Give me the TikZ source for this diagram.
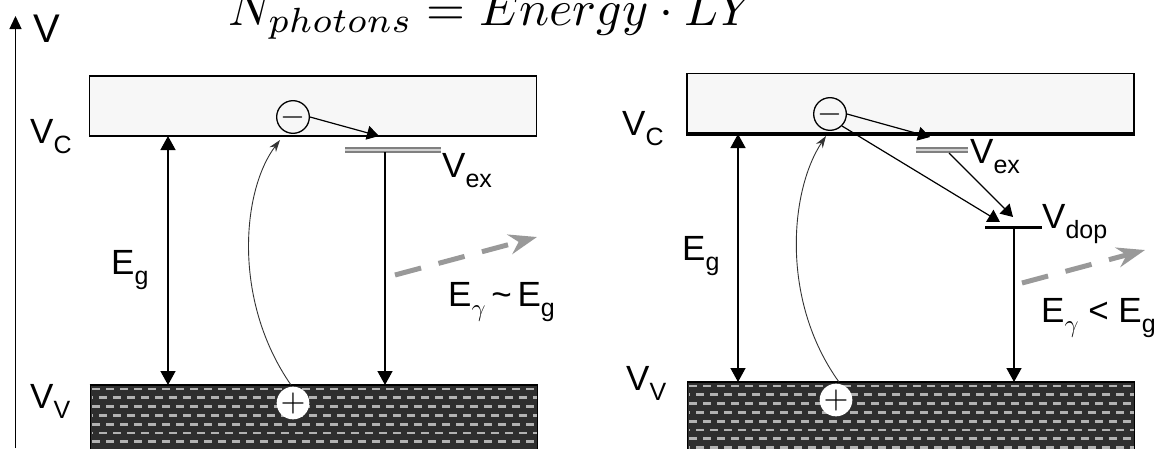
\documentclass[tikz,border=0pt]{standalone}
\usepackage{graphicx}
\usepackage{fontspec}
\newfontfamily\lsans{Liberation Sans}
\usetikzlibrary{arrows.meta,positioning,calc}

\newcommand\lsub[1]{\raisebox{-10pt}{\fontsize{25}{25}\selectfont #1}}

\tikzset{
  lab/.style={font=\lsans\fontsize{35}{35}\selectfont, inner sep=0pt, anchor=base west},
  cband/.style={draw, line width=1.3pt, fill=black!3, minimum width=447pt, minimum height=60pt, inner sep=0pt},
  vband/.style={draw, line width=1.3pt, fill=black!82, minimum width=447pt, minimum height=75pt, inner sep=0pt, anchor=north west},
  holes/.style={gray!60, line width=2.8pt, dash pattern=on 8pt off 6pt},
  gap/.style={line width=1.4pt, {Triangle[length=14pt,width=15pt]}-{Triangle[length=14pt,width=15pt]}},
  fall/.style={line width=1.4pt, -{Triangle[length=14pt,width=15pt]}},
  hop/.style={line width=1.2pt, -{Triangle[length=12pt,width=14pt]}},
  lift/.style={line width=0.9pt, black!80, -{Stealth[length=12pt,width=8pt]}},
  photon/.style={line width=5pt, gray!80, dash pattern=on 27pt off 18pt, -{Stealth[length=28pt,width=20pt,inset=9pt]}},
  electron/.style={circle, draw, line width=1.3pt, minimum size=31pt, inner sep=0pt, fill=black!3},
  hole/.style={circle, fill=white, minimum size=28pt, inner sep=0pt},
  exlevel/.style={draw=gray, double=gray!35, line width=2pt, double distance=1.6pt},
}

\begin{document}
\begin{tikzpicture}[x=1pt,y=-1pt]
    \useasboundingbox (0,0) rectangle (1158,448);
    % energy axis
    \coordinate (ax0) at (15.5,448);
    \coordinate (ax1) at (15.5,16);
    \draw[line width=1.3pt,-{Triangle[length=13pt,width=12pt]}] (ax0) -- (ax1);
    \node[lab, font=\lsans\fontsize{40}{40}\selectfont] (vaxis) at (33,42) {V};
    \node[anchor=base west, inner sep=0pt] (yield) at (228,25)
      {\scalebox{5}{$N_{photons} = Energy \cdot LY$}};

    % ---- left panel: intrinsic ----
    \node[cband] (cb1) at (313,106) {};
    \node[vband] (vb1) at (89.5,385) {};
    \begin{scope}
      \clip (vb1.north west) rectangle (vb1.south east);
      \foreach \i in {0,...,7} {
        \pgfmathsetmacro\ph{mod(\i,2)*7}
        \draw[holes, dash phase=\ph pt] (92,389+8.8*\i) -- (537,389+8.8*\i);
      }
    \end{scope}
    \draw[line width=1.3pt] (vb1.north west) -- (vb1.north east);
    \node[lab] (vc1) at (30,143) {V\lsub{C}};
    \node[lab] (vv1) at (30,408) {V\lsub{V}};
    % band gap
    \coordinate (g1a) at (168,136);
    \coordinate (g1b) at (168,385);
    \draw[gap] (g1a) -- (g1b);
    \node[lab] (eg1) at (111,274) {E\lsub{g}};
    % exciton level
    \coordinate (ex1w) at (345,150);
    \coordinate (ex1e) at (441,150);
    \draw[exlevel] (ex1w) -- (ex1e);
    \node[lab] (vex1) at (442,177) {V\lsub{ex}};
    \coordinate (ex1) at (385,152);
    \coordinate (f1) at (385,385);
    \draw[fall] (ex1) -- (f1);
    % carriers
    \node[electron] (e1) at (293,117) {\scalebox{3.2}{$-$}};
    \node[hole] (h1) at (293,403) {\scalebox{3.2}{$+$}};
    \coordinate (t1) at (379,136);
    \draw[hop] (e1.east) -- (t1);
    \coordinate (l1a) at (291,385);
    \coordinate (l1b) at (280,140);
    \draw[lift] (l1a) .. controls (232,300) and (242,190) .. (l1b);
    % emitted photon
    \coordinate (p1a) at (395,275);
    \coordinate (p1b) at (537,237);
    \draw[photon] (p1a) -- (p1b);
    \node[lab] (eph1) at (448,306) {E\lsub{$\gamma$}\,\textasciitilde\,E\lsub{g}};

    % ---- right panel: doped ----
    \node[cband] (cb2) at (910.5,103.5) {};
    \draw[line width=3.5pt] (cb2.south west) -- (cb2.south east);
    \node[vband] (vb2) at (687,382) {};
    \begin{scope}
      \clip (vb2.north west) rectangle (vb2.south east);
      \foreach \i in {0,...,7} {
        \pgfmathsetmacro\ph{mod(\i,2)*7}
        \draw[holes, dash phase=\ph pt] (689,386+8.8*\i) -- (1134,386+8.8*\i);
      }
    \end{scope}
    \draw[line width=1.3pt] (vb2.north west) -- (vb2.north east);
    \node[lab] (vc2) at (622,135) {V\lsub{C}};
    \node[lab] (vv2) at (626,390) {V\lsub{V}};
    % band gap
    \coordinate (g2a) at (738,134);
    \coordinate (g2b) at (738,382);
    \draw[gap] (g2a) -- (g2b);
    \node[lab] (eg2) at (682,260) {E\lsub{g}};
    % exciton and dopant levels
    \coordinate (ex2w) at (916,150);
    \coordinate (ex2e) at (968,150);
    \draw[exlevel] (ex2w) -- (ex2e);
    \node[lab] (vex2) at (970,163) {V\lsub{ex}};
    \coordinate (dp2w) at (985,227);
    \coordinate (dp2e) at (1042,227);
    \draw[line width=3pt] (dp2w) -- (dp2e);
    \node[lab] (vdop2) at (1042,228) {V\lsub{dop}};
    \coordinate (dp2) at (1014,227);
    \coordinate (f2) at (1014,382);
    \draw[fall] (dp2) -- (f2);
    % carriers
    \node[electron] (e2) at (830,114) {\scalebox{3.2}{$-$}};
    \node[hole] (h2) at (836,400) {\scalebox{3.2}{$+$}};
    \coordinate (t2) at (930,137);
    \draw[hop] (e2.east) -- (t2);
    \coordinate (t3) at (1000,222);
    \draw[hop] (e2.south east) -- (t3);
    \coordinate (ex2) at (949,153);
    \coordinate (t4) at (1013,217);
    \draw[hop] (ex2) -- (t4);
    \coordinate (l2a) at (839,382);
    \coordinate (l2b) at (826,136);
    \draw[lift] (l2a) .. controls (780,300) and (790,190) .. (l2b);
    % emitted photon
    \coordinate (p2a) at (1022,283);
    \coordinate (p2b) at (1145,250);
    \draw[photon] (p2a) -- (p2b);
    \node[lab] (eph2) at (1041,322) {E\lsub{$\gamma$} < E\lsub{g}};
  \end{tikzpicture}
\end{document}
